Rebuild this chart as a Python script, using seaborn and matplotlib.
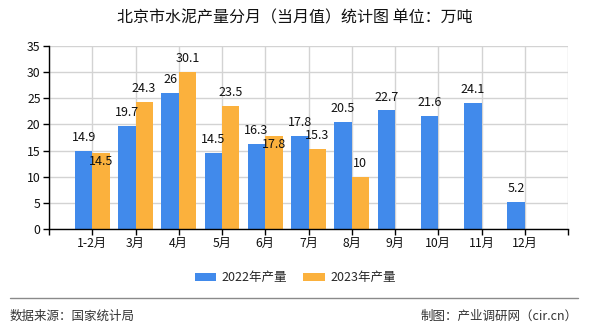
import numpy as np
import pandas as pd
import matplotlib
matplotlib.use("Agg")
import matplotlib.pyplot as plt
from matplotlib.lines import Line2D
import seaborn as sns

months = ["1-2月", "3月", "4月", "5月", "6月", "7月", "8月", "9月", "10月", "11月", "12月"]
values_2022 = [14.9, 19.7, 26, 14.5, 16.3, 17.8, 20.5, 22.7, 21.6, 24.1, 5.2]
values_2023 = [14.5, 24.3, 30.1, 23.5, 17.8, 15.3, 10]
series_names = ["2022年产量", "2023年产量"]
title = "北京市水泥产量分月（当月值）统计图 单位：万吨"
source_text = "数据来源：国家统计局"
credit_text = "制图：产业调研网（cir.cn）"

colors = ["#418AEB", "#FBB13D"]

sns.set_theme(style="white")
plt.rcParams["font.family"] = ["Noto Sans CJK SC", "DejaVu Sans"]

rows = []
for m, v in zip(months, values_2022):
    rows.append({"month": m, "series": series_names[0], "value": v})
for m, v in zip(months, values_2023):
    rows.append({"month": m, "series": series_names[1], "value": v})
df = pd.DataFrame(rows)

fig = plt.figure(figsize=(5.9, 3.3), dpi=100)
ax = fig.add_axes([49 / 590, 1 - 229 / 330, (568 - 49) / 590, (229 - 46) / 330])

sns.barplot(data=df, x="month", y="value", hue="series", order=months,
            hue_order=series_names, palette=colors, width=0.8, errorbar=None,
            saturation=1, ax=ax, legend=True, zorder=3, linewidth=0, edgecolor="none")

ax.set_xlim(-1, len(months))
ax.set_ylim(0, 35)
ax.set_yticks(np.arange(0, 36, 5))
ax.set_xticks(np.arange(-1, len(months) + 1))
ax.set_xticklabels([""] + months + [""])
ax.set_xlabel("")
ax.set_ylabel("")
ax.grid(True, color="#D3D3D3", linewidth=1, zorder=0)
ax.set_axisbelow(True)
for s in ["top", "right"]:
    ax.spines[s].set_visible(False)
for s in ["left", "bottom"]:
    ax.spines[s].set_color("black")
    ax.spines[s].set_linewidth(1)
    ax.spines[s].set_zorder(4)
ax.tick_params(axis="both", which="both", direction="out", length=4, width=1,
               color="black", labelsize=8.8, labelcolor="#111111", pad=2,
               bottom=True, left=True)

# value labels
label_kw = dict(ha="center", va="center", fontsize=9, color="#111111",
                textcoords="offset points", zorder=6)
for i, v in enumerate(values_2022):
    ax.annotate(f"{v:g}", (i - 0.2, v), xytext=(0, 9.5), **label_kw)
for i, v in enumerate(values_2023):
    b = values_2022[i]
    off = -6.2 if abs(v - b) < 2 else 9.5
    ax.annotate(f"{v:g}", (i + 0.2, v), xytext=(0, off), **label_kw)

# legend
leg = ax.legend(loc="center", bbox_to_anchor=(0.5, 1 - 278 / 330), bbox_transform=fig.transFigure,
                ncol=2, frameon=False, fontsize=9, handlelength=1.75, handleheight=0.65,
                handletextpad=0.4, columnspacing=1.3)

fig.text(0.5, 1 - 18 / 330, title, ha="center", va="center", fontsize=11.5, color="#111111",
         fontweight="medium")

fig.add_artist(Line2D([10 / 590, 578 / 590], [1 - 298 / 330, 1 - 298 / 330],
                      transform=fig.transFigure, color="#8a8a8a", linewidth=1))
fig.text(10 / 590, 1 - 316 / 330, source_text, ha="left", va="center", fontsize=9, color="#333333")
fig.text(578 / 590, 1 - 316 / 330, credit_text, ha="right", va="center", fontsize=9, color="#333333")

fig.savefig("out.png", dpi=100)
